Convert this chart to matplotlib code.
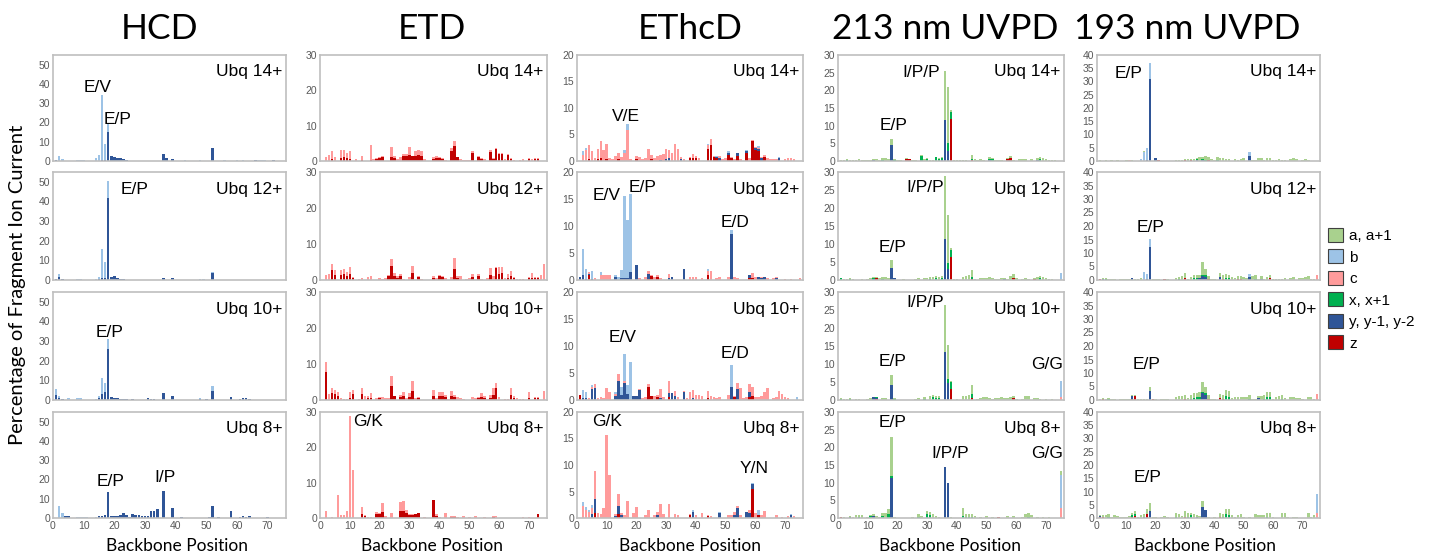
import matplotlib.pyplot as plt
import numpy as np
from matplotlib.patches import Patch

# backbone positions 1..75 of ubiquitin
positions = np.arange(1, 76)

# stacking order, bottom -> top
ions = ['z', 'y', 'x', 'c', 'b', 'a']
ion_colors = {'a': '#a9d18e', 'b': '#9dc3e6', 'c': '#ff9b9b',
              'x': '#00b050', 'y': '#2f5597', 'z': '#c00000'}
legend_ions = ['a', 'b', 'c', 'x', 'y', 'z']
legend_labels = ['a, a+1', 'b', 'c', 'x, x+1', 'y, y-1, y-2', 'z']

methods = ['HCD', 'ETD', 'EThcD', '213 nm UVPD', '193 nm UVPD']
charges = ['Ubq 14+', 'Ubq 12+', 'Ubq 10+', 'Ubq 8+']
ymax = [55, 30, 20, 30, 40]
ystep = [10, 10, 5, 5, 5]

# ---------------- HCD (ion -> {position: %}) ----------------
hcd_14 = {
    'y': {1: 0.3, 16: 0.5, 17: 0.5, 18: 15, 19: 2.5, 20: 2.2, 21: 1.8, 22: 1.3, 23: 1.0, 24: 0.7,
          36: 3.5, 37: 1.8, 39: 1.0, 52: 6.5, 66: 0.4, 72: 0.4},
    'b': {2: 2.5, 3: 1.0, 8: 0.5, 9: 0.7, 10: 0.7, 14: 1.5, 15: 3.0, 16: 33.5, 17: 8.5, 18: 4.0,
          43: 0.3, 48: 0.3, 56: 0.3, 60: 0.4, 62: 0.3, 67: 0.3, 68: 0.3, 69: 0.3},
}
hcd_12 = {
    'y': {1: 0.5, 2: 1.5, 3: 0.5, 15: 0.5, 16: 0.8, 17: 1.0, 18: 42, 19: 1.5, 20: 2.0, 21: 1.2,
          22: 0.5, 23: 0.3, 36: 0.8, 39: 0.8, 52: 3.5},
    'b': {2: 1.5, 8: 0.3, 9: 0.3, 14: 0.5, 15: 1.0, 16: 15, 17: 8, 18: 8.5, 48: 0.3, 49: 0.3,
          52: 0.7, 58: 0.2, 62: 0.2, 63: 0.2, 67: 0.2},
}
hcd_10 = {
    'y': {1: 2.5, 2: 1.0, 3: 0.5, 15: 1.0, 16: 3.0, 17: 4.0, 18: 26, 19: 1.5, 20: 1.2, 21: 0.8,
          22: 0.6, 23: 0.5, 24: 0.4, 26: 0.3, 31: 0.8, 32: 0.5, 33: 0.4, 36: 3.5, 39: 2.0, 48: 0.5,
          50: 0.3, 52: 4.5, 58: 1.5, 61: 0.5, 62: 0.8, 63: 1.0, 64: 0.5},
    'b': {1: 3.0, 2: 1.0, 5: 1.0, 8: 0.8, 9: 0.8, 14: 0.5, 15: 1.0, 16: 8.0, 17: 4.5, 18: 5.0,
          48: 0.3, 52: 2.5},
}
hcd_8 = {
    'y': {4: 1.0, 5: 0.8, 15: 0.8, 16: 1.2, 17: 1.5, 18: 13.5, 19: 1.0, 20: 1.2, 21: 1.0, 22: 1.5,
          23: 2.5, 24: 1.8, 25: 0.5, 26: 2.0, 27: 1.5, 28: 1.3, 29: 1.0, 30: 1.0, 31: 1.2, 32: 3.5,
          33: 3.5, 34: 4.5, 36: 14, 39: 5.0, 42: 0.3, 51: 0.5, 52: 6.0, 54: 0.5, 58: 3.5, 61: 0.5,
          62: 0.8, 63: 0.5, 64: 1.0, 70: 0.3},
    'b': {2: 6.0, 3: 2.5, 8: 0.3, 9: 0.3, 10: 0.3, 11: 0.3, 14: 0.3},
}

# ---------------- ETD ----------------
etd_14 = {
    'z': {4: 0.6, 7: 0.8, 8: 1.0, 9: 0.8, 10: 0.5, 14: 0.3, 17: 0.2, 19: 0.5, 20: 0.8, 21: 1.0,
          24: 1.2, 25: 0.8, 28: 1.3, 29: 1.3, 30: 1.7, 31: 1.5, 32: 1.5, 33: 1.8, 34: 1.5, 38: 0.6,
          39: 0.8, 40: 0.8, 41: 0.5, 44: 2.8, 45: 4.2, 46: 1.0, 51: 2.2, 53: 1.2, 54: 0.6, 57: 2.5,
          58: 0.6, 59: 3.3, 60: 2.1, 61: 2.1, 63: 1.7, 64: 0.6, 70: 0.6, 72: 0.7, 73: 0.7},
    'c': {2: 1.2, 3: 1.7, 4: 2.1, 5: 1.2, 7: 2.2, 8: 2.2, 9: 1.4, 10: 2.3, 12: 0.5, 14: 1.0,
          17: 4.4, 18: 0.6, 19: 0.3, 20: 0.4, 21: 0.3, 24: 2.8, 25: 0.7, 26: 0.5, 27: 1.0, 28: 0.7,
          29: 0.6, 30: 2.2, 32: 1.4, 33: 1.2, 34: 1.3, 35: 0.6, 38: 0.4, 39: 0.5, 40: 0.4, 41: 0.3,
          42: 0.3, 44: 0.9, 45: 1.5, 47: 0.6, 48: 0.3, 49: 0.3, 50: 0.3, 51: 0.5, 53: 0.1, 54: 0.2,
          55: 0.5, 57: 0.5, 58: 0.2, 59: 0.3, 60: 0.2, 61: 0.2, 62: 0.6, 63: 0.3, 64: 0.2, 65: 0.4,
          67: 0.2, 68: 0.5, 70: 0.2, 71: 0.5, 72: 0.1, 73: 0.1},
}
etd_12 = {
    'z': {4: 2.8, 5: 1.5, 7: 1.5, 8: 1.8, 9: 1.0, 10: 1.8, 11: 0.5, 23: 1.0, 24: 3.8, 25: 1.2,
          26: 0.5, 27: 1.0, 31: 2.0, 33: 0.8, 38: 0.5, 40: 1.0, 41: 0.8, 45: 3.0, 46: 0.5, 51: 0.8,
          53: 1.2, 57: 1.5, 59: 3.3, 60: 1.8, 61: 2.0, 63: 0.5, 64: 1.0, 65: 0.5, 70: 0.5, 71: 0.5,
          72: 0.6, 73: 0.6},
    'c': {2: 1.5, 3: 1.7, 4: 1.7, 5: 1.3, 7: 1.2, 8: 1.2, 9: 1.3, 10: 1.9, 11: 0.3, 13: 0.3,
          14: 0.5, 16: 0.8, 17: 1.2, 20: 0.5, 21: 0.3, 22: 0.5, 23: 0.5, 24: 2.0, 25: 0.8, 26: 0.7,
          27: 0.7, 28: 0.3, 30: 0.8, 31: 2.0, 33: 0.4, 34: 0.3, 38: 0.7, 39: 0.5, 40: 0.5, 41: 0.4,
          42: 0.5, 44: 0.8, 45: 3.0, 46: 0.7, 47: 1.2, 49: 0.3, 50: 0.5, 51: 0.9, 53: 0.6, 54: 0.3,
          56: 0.5, 57: 1.7, 58: 1.0, 59: 0.2, 60: 1.7, 61: 1.5, 62: 0.5, 63: 1.2, 64: 1.5, 65: 0.3,
          66: 0.3, 67: 0.3, 68: 0.3, 70: 0.3, 71: 1.5, 72: 0.2, 73: 0.2, 74: 1.5, 75: 4.5},
}
etd_10 = {
    'z': {2: 7.8, 4: 2.0, 5: 1.8, 6: 1.2, 10: 0.5, 11: 1.8, 14: 1.8, 16: 0.5, 17: 0.5, 20: 0.5,
          24: 4.0, 25: 1.0, 27: 0.8, 28: 1.2, 30: 0.8, 31: 2.6, 33: 0.6, 38: 1.2, 40: 1.0, 41: 1.2,
          42: 0.8, 44: 1.2, 45: 0.7, 53: 0.5, 54: 0.8, 55: 0.5, 57: 0.5, 58: 1.5, 59: 3.2, 64: 1.5,
          65: 0.5, 70: 0.6, 72: 0.6, 73: 0.6},
    'c': {2: 2.7, 3: 1.8, 4: 1.2, 5: 1.0, 6: 1.0, 7: 0.5, 8: 0.3, 9: 0.3, 10: 1.8, 11: 1.0,
          13: 0.3, 14: 1.4, 15: 1.0, 16: 0.5, 17: 1.5, 19: 0.5, 20: 0.3, 21: 0.8, 22: 0.6, 23: 0.5,
          24: 2.8, 27: 0.7, 28: 1.0, 29: 0.5, 30: 1.2, 31: 2.6, 32: 0.5, 33: 0.2, 38: 1.5, 39: 0.5,
          40: 1.2, 41: 1.0, 42: 0.7, 43: 0.3, 44: 1.3, 45: 0.8, 46: 0.8, 47: 0.5, 48: 0.3, 51: 0.8,
          52: 0.5, 53: 0.3, 54: 1.2, 55: 0.5, 56: 0.3, 57: 1.0, 58: 1.7, 59: 1.6, 60: 0.8, 62: 0.3,
          63: 0.3, 64: 1.8, 65: 0.5, 66: 0.5, 67: 0.3, 68: 0.3, 70: 1.7, 72: 0.2, 73: 0.2, 75: 2.5},
}
etd_8 = {
    'z': {14: 1.2, 15: 0.5, 19: 1.0, 20: 1.2, 21: 1.8, 27: 2.0, 28: 2.0, 29: 1.5, 30: 0.8, 31: 0.8,
          32: 1.0, 33: 1.3, 38: 5.2, 39: 0.5, 44: 0.3, 45: 0.3, 58: 0.3, 73: 1.0},
    'c': {2: 2.0, 4: 0.3, 6: 6.5, 7: 0.8, 8: 0.8, 9: 2.0, 10: 29.0, 11: 13.5, 14: 1.8, 15: 0.3,
          16: 0.3, 17: 0.3, 19: 0.8, 20: 0.3, 21: 2.5, 22: 0.5, 24: 1.5, 27: 2.5, 28: 2.8, 29: 0.8,
          30: 0.4, 31: 0.4, 32: 0.2, 35: 0.3, 39: 0.7, 40: 0.3, 42: 1.5, 44: 0.3, 45: 0.2, 46: 0.3,
          48: 0.5, 50: 0.3, 52: 0.5, 55: 0.3, 58: 0.3, 59: 0.5, 68: 0.3, 70: 0.3, 73: 0.2},
}

# ---------------- EThcD (position -> ions) ----------------
ethcd_14 = {
    2: dict(c=1.2, b=0.6), 3: dict(c=2.0, b=0.4), 4: dict(z=0.3, c=2.7), 5: dict(c=1.8),
    6: dict(c=0.5), 7: dict(z=0.3, c=2.0), 8: dict(z=0.5, c=3.3), 9: dict(c=2.0),
    10: dict(z=0.3, c=2.9), 11: dict(c=0.5), 12: dict(c=0.3), 13: dict(c=0.9), 14: dict(z=0.3, c=1.2),
    15: dict(c=0.7), 16: dict(c=1.5, b=0.5), 17: dict(c=5.8, b=1.2), 18: dict(c=0.3),
    20: dict(z=0.3, c=0.6), 21: dict(c=0.7), 22: dict(c=0.3), 23: dict(c=0.5), 24: dict(c=2.3),
    25: dict(z=0.3, c=0.9), 26: dict(c=0.6), 27: dict(c=0.9), 28: dict(y=0.2, c=1.0), 29: dict(c=1.4),
    30: dict(y=0.3, c=1.9), 31: dict(y=0.5, c=1.6), 32: dict(c=1.5), 33: dict(c=3.2), 34: dict(c=2.2),
    35: dict(y=0.3, c=0.5), 36: dict(c=0.3), 38: dict(z=0.5, c=0.3), 39: dict(z=0.5, c=0.8),
    40: dict(z=0.5, c=0.5), 41: dict(c=0.5), 44: dict(z=2.2, c=0.8, b=0.3), 45: dict(z=3.0, c=1.2),
    46: dict(z=0.8, c=0.2), 47: dict(z=0.5, y=0.3, b=0.2), 48: dict(y=0.5, c=0.5), 49: dict(c=0.3),
    50: dict(c=0.5), 51: dict(z=1.2, y=0.3, b=0.3), 52: dict(z=0.5, c=0.3), 53: dict(c=0.3),
    54: dict(z=1.0, y=0.5), 55: dict(c=0.4), 57: dict(z=1.5, y=0.3, b=0.2), 58: dict(c=0.5),
    59: dict(z=3.8, c=0.2), 60: dict(z=2.0, y=0.4, c=0.2), 61: dict(z=1.8, y=0.5, c=0.2, b=0.3),
    62: dict(y=0.5, c=0.3), 63: dict(z=0.8, c=0.3), 64: dict(c=0.6), 65: dict(c=0.4), 66: dict(c=0.3),
    67: dict(c=0.3), 68: dict(y=0.5, b=0.3), 70: dict(c=0.3), 71: dict(c=0.5), 72: dict(c=0.5),
    73: dict(c=0.4),
}
ethcd_12 = {
    1: dict(y=0.5), 2: dict(y=1.0, b=4.8), 3: dict(y=0.2, b=1.8), 4: dict(z=1.0, y=0.2, c=0.3),
    5: dict(y=0.2, b=1.5), 6: dict(c=0.3), 8: dict(c=1.0, b=0.4), 9: dict(c=1.0), 10: dict(c=1.0),
    11: dict(c=1.0), 13: dict(y=0.5, b=0.5), 14: dict(b=0.5), 15: dict(y=0.3, b=1.5),
    16: dict(y=0.3, b=15.2), 17: dict(y=0.4, b=10.8), 18: dict(y=1.5, b=14.5), 20: dict(y=2.8),
    21: dict(c=0.3), 23: dict(c=0.5), 24: dict(z=0.2, y=1.0, c=0.5), 25: dict(z=0.8, c=0.2),
    26: dict(c=0.5), 27: dict(z=0.5, c=0.5), 28: dict(c=0.3), 31: dict(y=0.3, c=0.8), 32: dict(y=0.6),
    36: dict(y=2.0), 38: dict(c=0.5), 39: dict(c=0.5), 40: dict(c=0.5), 42: dict(c=0.3),
    44: dict(z=1.0, c=0.7, b=0.3), 45: dict(c=1.6), 47: dict(c=0.3), 48: dict(c=0.5), 51: dict(c=0.5),
    52: dict(y=8.5, b=0.7), 53: dict(c=0.5), 54: dict(c=0.3), 58: dict(z=0.3, y=0.6, c=0.1),
    59: dict(z=0.3, c=1.0), 60: dict(c=0.5), 61: dict(y=0.5), 62: dict(y=0.3, c=0.2), 63: dict(y=0.5),
    64: dict(c=0.3), 66: dict(c=0.3), 67: dict(y=0.3, c=0.2), 70: dict(c=0.2), 72: dict(c=0.2),
    75: dict(c=0.3),
}
ethcd_10 = {
    1: dict(z=1.0), 2: dict(y=0.3, b=1.5), 3: dict(y=0.3, b=1.2), 4: dict(c=0.3),
    5: dict(y=2.0, c=0.5, b=0.3), 6: dict(y=2.2, c=0.7), 7: dict(c=0.4), 8: dict(c=0.5), 9: dict(c=0.3),
    10: dict(c=2.2), 11: dict(c=1.5), 13: dict(y=0.8, c=0.3, b=0.4), 14: dict(y=3.5, c=1.3),
    15: dict(y=1.0, b=1.5), 16: dict(y=3.2, c=0.3, b=5.0), 17: dict(y=1.2, b=1.6), 18: dict(b=7.0),
    19: dict(y=0.8), 20: dict(y=0.8), 21: dict(y=1.8, c=0.2), 22: dict(c=0.3), 23: dict(c=0.5),
    24: dict(z=2.4, c=0.5), 25: dict(z=0.8), 26: dict(c=0.7), 27: dict(z=0.5, c=0.5),
    28: dict(y=0.3, c=1.7), 29: dict(c=0.5), 31: dict(z=0.5, y=0.8, c=2.3), 32: dict(y=1.3),
    33: dict(y=0.8, c=0.9), 34: dict(c=0.5), 36: dict(y=1.5, c=0.2), 37: dict(c=0.3), 38: dict(c=1.5),
    39: dict(y=0.3, c=1.5), 40: dict(c=1.0), 41: dict(c=1.0), 42: dict(c=0.8), 44: dict(z=0.3, c=1.3),
    45: dict(c=0.8), 46: dict(c=0.5), 47: dict(c=0.3), 48: dict(c=0.5), 51: dict(c=1.0),
    52: dict(y=2.5, b=4.0), 53: dict(z=0.5, c=0.3), 54: dict(y=2.0, c=1.2), 55: dict(c=2.3),
    56: dict(c=0.3), 57: dict(c=0.5), 58: dict(z=0.5, y=1.0, c=1.4), 59: dict(z=0.8, c=1.7),
    60: dict(c=0.5), 61: dict(c=0.5), 62: dict(c=0.8), 63: dict(c=1.5), 64: dict(c=2.3), 66: dict(c=0.4),
    67: dict(c=0.5), 68: dict(c=1.7), 69: dict(c=1.2), 70: dict(c=0.5), 71: dict(c=0.3), 74: dict(b=0.5),
}
ethcd_8 = {
    2: dict(c=2.2, b=0.8), 3: dict(c=1.5, b=0.6), 4: dict(c=1.2, b=0.4), 5: dict(y=0.8, c=1.1, b=0.5),
    6: dict(z=1.0, y=2.6, c=5.2), 7: dict(c=1.0), 8: dict(c=0.8), 9: dict(c=1.9), 10: dict(c=15.6),
    11: dict(c=8.2), 13: dict(y=0.3, c=0.5), 14: dict(z=0.8, y=1.5, c=2.3), 15: dict(y=0.5, c=0.5),
    16: dict(c=0.5), 17: dict(c=3.2), 19: dict(c=1.0), 20: dict(c=2.0), 23: dict(c=0.5), 24: dict(c=1.6),
    26: dict(c=0.5), 27: dict(y=0.5, c=0.6), 28: dict(c=2.6), 29: dict(c=0.8), 31: dict(c=2.6),
    33: dict(c=0.8), 34: dict(c=0.5), 38: dict(z=0.5, c=0.3), 39: dict(y=1.2, b=0.4), 40: dict(c=0.5),
    42: dict(c=1.0), 44: dict(z=0.3, c=0.2), 45: dict(c=0.4), 48: dict(y=1.0, b=0.2), 51: dict(c=0.5),
    52: dict(c=0.5), 53: dict(y=0.5, c=0.6), 54: dict(y=1.8, c=0.5), 55: dict(c=0.5), 57: dict(y=1.2),
    58: dict(y=1.0, c=0.5), 59: dict(z=5.5, y=1.0, b=0.1), 60: dict(c=1.0), 61: dict(z=0.5, b=1.0),
    62: dict(c=0.5), 63: dict(c=1.4), 67: dict(c=0.5), 69: dict(c=0.2), 71: dict(c=0.3),
    72: dict(y=0.6, b=0.1), 73: dict(c=0.3),
}

# ---------------- 213 nm UVPD ----------------
uv213_14 = {
    1: dict(a=0.3), 2: dict(a=0.3), 3: dict(x=0.2, a=0.3), 4: dict(a=0.3), 5: dict(a=0.3), 6: dict(a=0.3),
    7: dict(a=0.5), 8: dict(a=0.3), 9: dict(a=0.3), 10: dict(a=0.3), 11: dict(a=0.3), 12: dict(y=0.3, a=0.2),
    13: dict(a=0.5), 14: dict(a=0.3), 15: dict(x=0.3, a=0.5), 16: dict(a=0.8), 17: dict(a=0.5),
    18: dict(y=4.5, a=1.7), 19: dict(x=0.4, a=0.1), 20: dict(a=0.3), 21: dict(a=0.3), 23: dict(z=0.5, a=0.4),
    24: dict(z=0.5, a=0.2), 25: dict(a=0.3), 26: dict(a=0.3), 28: dict(x=1.5, a=0.1), 29: dict(a=0.5),
    30: dict(x=0.5, a=0.3), 31: dict(a=0.3), 32: dict(a=0.3), 33: dict(x=1.0, a=0.2), 34: dict(x=0.6, a=0.3),
    35: dict(y=0.2, x=0.7, a=0.3), 36: dict(y=11.5, a=14.0), 37: dict(y=2.8, x=2.2, a=16.0),
    38: dict(z=12.0, x=2.0, a=0.5), 39: dict(a=0.3), 40: dict(a=0.3), 41: dict(a=0.3), 42: dict(a=0.3),
    43: dict(a=0.3), 45: dict(z=0.3, x=0.3, a=1.2), 46: dict(a=0.5), 47: dict(a=0.3), 48: dict(a=0.5),
    49: dict(a=0.3), 51: dict(y=0.3, x=0.4, a=0.3), 52: dict(x=0.5, a=0.3), 53: dict(a=0.3), 54: dict(a=0.3),
    55: dict(a=0.3), 57: dict(z=0.5, a=0.3), 58: dict(z=0.8, a=0.5), 59: dict(a=0.3), 61: dict(a=0.5),
    62: dict(a=0.5), 63: dict(a=0.5), 65: dict(a=0.5), 67: dict(y=0.3, a=0.5), 68: dict(x=0.5, a=0.5),
    69: dict(a=0.8), 70: dict(a=0.5), 71: dict(a=0.3), 72: dict(a=0.3), 73: dict(a=0.3),
}
uv213_12 = {
    1: dict(x=0.5), 2: dict(a=0.3), 3: dict(a=0.3), 4: dict(x=0.2, a=0.3), 5: dict(a=0.3), 8: dict(a=0.3),
    10: dict(a=0.3), 11: dict(a=0.5), 12: dict(y=0.3, x=0.3, a=0.2), 13: dict(z=0.5, a=0.3), 14: dict(a=0.5),
    15: dict(x=0.3, a=0.5), 16: dict(a=0.8), 17: dict(a=0.5), 18: dict(y=3.2, a=2.3), 19: dict(y=0.5, a=0.1),
    22: dict(a=0.3), 26: dict(a=0.3), 27: dict(a=0.5), 29: dict(a=0.5), 30: dict(a=0.5),
    31: dict(x=0.3, a=0.5), 32: dict(a=0.8), 33: dict(x=0.5, a=0.5), 34: dict(a=0.8), 35: dict(x=0.5, a=0.5),
    36: dict(y=11.5, a=17.3), 37: dict(y=3.0, x=1.7, a=13.3), 38: dict(z=6.5, x=1.8, a=0.7), 39: dict(a=0.3),
    40: dict(a=0.3), 42: dict(a=0.8), 43: dict(a=1.0), 44: dict(a=1.3), 45: dict(z=0.3, x=0.5, a=2.0),
    46: dict(a=0.3), 48: dict(a=0.5), 49: dict(a=0.5), 50: dict(a=0.5), 51: dict(a=0.8), 52: dict(a=0.5),
    53: dict(a=0.3), 54: dict(a=0.3), 55: dict(a=0.5), 56: dict(y=0.3, a=0.2), 57: dict(a=0.3), 58: dict(a=1.0),
    59: dict(z=0.6, a=1.2), 60: dict(a=0.5), 62: dict(a=0.3), 63: dict(a=0.5), 64: dict(a=0.3),
    66: dict(z=0.3, a=0.2), 67: dict(a=0.8), 68: dict(x=0.5, a=0.5), 69: dict(a=0.8), 70: dict(a=0.5),
    71: dict(a=0.3), 72: dict(a=0.3), 75: dict(b=2.0),
}
uv213_10 = {
    1: dict(x=0.3, a=0.2), 2: dict(a=0.3), 3: dict(a=0.3), 4: dict(x=0.3, a=0.2), 6: dict(a=0.3), 7: dict(a=0.3),
    10: dict(a=0.3), 11: dict(a=0.5), 12: dict(y=0.7, a=0.2), 13: dict(z=0.2, y=0.4, x=0.2, a=0.1),
    15: dict(a=0.6), 16: dict(a=0.6), 18: dict(y=4.3, a=2.7), 19: dict(x=0.3, a=0.2), 26: dict(a=0.3),
    27: dict(a=0.5), 29: dict(x=0.3, a=0.5), 31: dict(a=1.0), 32: dict(x=0.7, a=0.8), 33: dict(x=0.5, a=0.7),
    34: dict(x=0.5, a=0.5), 36: dict(y=13.2, a=13.3), 37: dict(y=4.6, x=1.3, a=9.4), 38: dict(z=3.0, x=2.0, a=0.2),
    40: dict(a=0.3), 42: dict(a=1.0), 43: dict(a=1.0), 44: dict(a=1.5), 45: dict(z=0.5, x=1.3, a=2.4),
    47: dict(a=0.3), 48: dict(a=0.5), 49: dict(a=0.8), 50: dict(a=0.8), 51: dict(a=0.5), 52: dict(a=0.3),
    53: dict(a=0.5), 54: dict(a=0.5), 55: dict(a=0.8), 56: dict(a=0.5), 57: dict(a=0.5), 58: dict(a=0.9),
    59: dict(z=0.5, a=0.7), 60: dict(a=0.3), 62: dict(a=0.3), 63: dict(a=1.0), 64: dict(a=1.0), 66: dict(a=0.5),
    67: dict(a=0.5), 68: dict(a=0.3), 70: dict(a=0.3), 72: dict(a=0.3), 75: dict(c=0.8, b=4.5),
}
uv213_8 = {
    1: dict(z=0.2, a=0.1), 2: dict(a=0.2), 4: dict(y=0.3, a=0.4), 5: dict(a=0.2), 6: dict(a=0.8),
    7: dict(x=0.3, a=0.5), 8: dict(a=0.8), 10: dict(a=0.3), 11: dict(x=0.5, a=0.3), 12: dict(y=0.5, a=0.5),
    13: dict(a=0.5), 14: dict(a=0.3), 15: dict(x=0.5, a=0.8), 16: dict(a=1.3), 17: dict(x=1.0, a=1.6),
    18: dict(y=11.2, x=0.7, a=11.1), 19: dict(a=0.3), 25: dict(a=0.3), 27: dict(x=0.3, a=0.9), 28: dict(a=0.5),
    30: dict(x=1.0, a=1.0), 31: dict(x=0.8, a=1.0), 32: dict(a=1.2), 33: dict(a=0.5), 34: dict(a=0.3),
    36: dict(y=14.3), 37: dict(y=9.8, b=0.2), 38: dict(a=0.3), 42: dict(x=0.7, a=2.0), 43: dict(x=0.4, a=0.8),
    44: dict(x=0.4, a=0.8), 45: dict(x=0.4, a=0.7), 46: dict(a=0.5), 48: dict(a=0.3), 50: dict(a=0.5),
    52: dict(a=0.3), 54: dict(z=0.2, a=0.1), 57: dict(a=0.5), 59: dict(a=0.5), 62: dict(a=0.3), 63: dict(a=1.0),
    64: dict(x=0.3, a=1.2), 65: dict(a=0.8), 67: dict(a=0.3), 69: dict(a=0.3), 71: dict(a=0.3),
    75: dict(c=2.7, b=9.5, a=1.0),
}

# ---------------- 193 nm UVPD ----------------
uv193_14 = {
    1: dict(a=0.3), 3: dict(a=0.3), 5: dict(a=0.3), 7: dict(a=0.3), 10: dict(a=0.3), 11: dict(c=0.5),
    12: dict(a=0.3), 15: dict(b=0.8), 16: dict(b=3.5, a=0.3), 17: dict(y=0.3, b=4.5), 18: dict(y=31.0, b=6.0),
    20: dict(y=1.2, a=0.1), 21: dict(z=0.4, a=0.1), 27: dict(a=0.3), 28: dict(a=0.5), 29: dict(a=0.5),
    30: dict(z=0.5, a=0.3), 31: dict(a=0.8), 32: dict(z=0.5, a=0.3), 33: dict(a=0.8), 34: dict(y=0.3, x=0.3, a=0.7),
    35: dict(a=1.5), 36: dict(y=0.5, x=0.3, a=0.7), 37: dict(x=0.5, a=1.3), 38: dict(z=0.5, a=1.1), 39: dict(a=0.8),
    40: dict(a=0.5), 41: dict(x=0.5, a=1.0), 42: dict(a=1.3), 43: dict(a=1.0), 44: dict(a=0.8), 45: dict(a=0.7),
    47: dict(a=0.8), 48: dict(a=0.5), 49: dict(a=0.8), 50: dict(a=1.0), 52: dict(y=1.8, b=1.5), 53: dict(a=0.5),
    54: dict(a=0.5), 55: dict(a=1.0), 56: dict(a=1.0), 57: dict(a=0.5), 58: dict(a=1.0), 59: dict(a=1.0),
    60: dict(a=0.5), 61: dict(a=0.5), 62: dict(a=0.8), 63: dict(a=0.5), 64: dict(a=0.5), 66: dict(a=0.8),
    67: dict(a=1.2), 68: dict(a=0.8), 70: dict(a=0.3), 71: dict(a=0.8), 72: dict(a=0.3),
}
uv193_12 = {
    1: dict(z=0.3, a=0.2), 2: dict(y=0.5, a=0.3), 3: dict(x=0.4, a=0.4), 4: dict(a=0.5), 5: dict(a=0.3),
    6: dict(a=0.5), 8: dict(a=0.3), 9: dict(a=0.3), 10: dict(a=0.3), 11: dict(a=0.5), 12: dict(y=0.6, a=0.3),
    13: dict(a=0.3), 14: dict(a=0.5), 15: dict(a=0.8), 16: dict(b=3.0), 17: dict(y=0.3, b=2.0),
    18: dict(y=12.2, b=3.0), 19: dict(a=0.5), 20: dict(a=0.5), 21: dict(a=0.3), 23: dict(z=0.3, a=0.2),
    24: dict(a=0.3), 27: dict(a=0.8), 28: dict(x=0.5, a=0.7), 29: dict(a=1.5), 30: dict(z=0.8, a=1.7),
    31: dict(a=0.5), 32: dict(a=1.0), 33: dict(x=0.6, a=1.2), 34: dict(x=0.8, a=1.2), 35: dict(y=0.8, a=1.0),
    36: dict(y=1.5, x=0.5, a=4.5), 37: dict(y=1.2, x=0.8, a=2.0), 38: dict(z=0.5, a=1.0), 39: dict(a=0.5),
    40: dict(a=0.5), 42: dict(y=1.0, a=1.5), 43: dict(z=0.5, a=1.3), 44: dict(x=0.8, a=1.5), 45: dict(x=0.8, a=1.2),
    46: dict(a=1.0), 47: dict(a=0.8), 48: dict(z=0.5, a=1.0), 49: dict(z=0.5, a=1.0), 50: dict(a=1.2),
    51: dict(a=0.8), 52: dict(y=1.0, b=1.3), 53: dict(a=1.5), 54: dict(x=0.5, a=1.3), 55: dict(a=0.5),
    56: dict(y=0.5, a=1.0), 57: dict(a=0.5), 58: dict(a=1.0), 59: dict(z=0.8, a=1.0), 60: dict(a=0.5),
    61: dict(a=0.5), 62: dict(a=0.3), 63: dict(a=0.5), 64: dict(a=0.8), 66: dict(a=0.8), 67: dict(a=1.2),
    69: dict(a=0.8), 70: dict(a=0.8), 71: dict(a=1.0), 72: dict(a=1.5), 73: dict(a=0.3), 74: dict(a=0.5),
    75: dict(c=1.8),
}
uv193_10 = {
    1: dict(a=0.3), 2: dict(z=0.5, a=0.3), 3: dict(a=0.5), 4: dict(x=0.3, a=0.4), 5: dict(a=0.5), 6: dict(a=0.3),
    8: dict(a=0.3), 9: dict(a=0.3), 10: dict(a=0.3), 11: dict(a=0.5), 12: dict(z=0.3, y=1.2, a=0.3),
    13: dict(z=1.3, a=0.7), 14: dict(a=0.3), 15: dict(a=0.5), 16: dict(a=0.5), 17: dict(a=0.3),
    18: dict(y=3.5, a=1.5), 19: dict(z=0.3, a=0.2), 20: dict(a=0.5), 22: dict(a=0.3), 23: dict(a=0.3),
    24: dict(a=0.3), 27: dict(a=1.2), 28: dict(a=1.3), 29: dict(a=1.5), 30: dict(z=0.5, a=1.5), 31: dict(a=0.8),
    32: dict(x=0.5, a=1.3), 33: dict(x=0.8, a=1.7), 34: dict(x=1.0, a=1.5), 35: dict(x=1.0, a=2.0),
    36: dict(y=2.5, x=0.5, a=3.5), 37: dict(y=1.8, x=0.8, a=2.2), 38: dict(z=0.5, a=1.5), 39: dict(a=0.3),
    40: dict(a=0.5), 42: dict(z=0.8, a=1.5), 43: dict(z=0.5, a=1.5), 44: dict(x=1.5, a=2.3), 45: dict(x=1.2, a=2.1),
    46: dict(a=0.8), 47: dict(a=1.0), 48: dict(a=1.2), 49: dict(a=1.0), 50: dict(a=1.2), 51: dict(a=1.2),
    52: dict(x=0.5, a=1.5), 53: dict(a=0.5), 54: dict(a=0.5), 55: dict(y=0.8, a=0.7), 56: dict(a=1.5),
    57: dict(x=0.5, a=1.3), 58: dict(x=1.0, a=1.8), 59: dict(x=1.2, a=1.8), 60: dict(a=0.5), 61: dict(a=1.0),
    62: dict(a=1.5), 63: dict(x=0.5, a=1.3), 64: dict(a=0.8), 66: dict(a=1.0), 67: dict(a=1.0), 68: dict(a=0.8),
    69: dict(a=0.8), 70: dict(a=0.5), 72: dict(a=1.2), 73: dict(a=1.0), 74: dict(a=0.5), 75: dict(c=2.3),
}
uv193_8 = {
    1: dict(z=0.5, y=0.3, a=0.2), 2: dict(z=0.5, a=0.5), 3: dict(a=1.0), 4: dict(x=0.5, a=1.0), 5: dict(a=0.5),
    6: dict(a=1.2), 7: dict(a=0.8), 8: dict(a=0.3), 9: dict(a=0.3), 10: dict(a=0.5), 11: dict(a=0.8),
    12: dict(z=0.5, x=0.8, a=0.5), 13: dict(z=0.8, x=0.7, a=1.0), 14: dict(a=0.3), 15: dict(a=1.0),
    16: dict(y=0.5, a=1.0), 17: dict(z=1.5, a=2.0), 18: dict(y=2.8, a=2.7), 19: dict(a=0.5), 20: dict(a=0.5),
    22: dict(a=0.3), 23: dict(a=0.8), 24: dict(a=0.5), 27: dict(x=0.3, a=1.5), 28: dict(a=1.5), 29: dict(a=0.8),
    30: dict(z=0.5, a=2.0), 31: dict(x=0.5, a=1.5), 32: dict(x=1.0, a=0.8), 33: dict(a=1.5), 34: dict(y=0.5, a=0.5),
    35: dict(a=0.8), 36: dict(y=4.0, a=2.3), 37: dict(y=3.0), 38: dict(a=0.5), 40: dict(a=0.3),
    42: dict(z=0.5, a=1.5), 43: dict(x=0.5, a=1.0), 44: dict(x=1.5, a=2.0), 45: dict(x=1.0, a=2.5),
    46: dict(a=1.0), 47: dict(a=0.5), 48: dict(a=1.2), 49: dict(a=1.5), 50: dict(a=0.3), 52: dict(a=0.5),
    54: dict(a=1.5), 55: dict(a=1.0), 56: dict(a=1.0), 57: dict(a=1.3), 58: dict(x=0.5, a=1.5), 59: dict(a=2.0),
    60: dict(a=0.3), 63: dict(a=2.0), 64: dict(a=2.0), 65: dict(a=0.5), 67: dict(a=0.3), 68: dict(a=0.3),
    72: dict(a=2.0), 73: dict(a=0.5), 74: dict(a=1.2), 75: dict(c=2.0, b=7.0),
}

panels = [
    [hcd_14, etd_14, ethcd_14, uv213_14, uv193_14],
    [hcd_12, etd_12, ethcd_12, uv213_12, uv193_12],
    [hcd_10, etd_10, ethcd_10, uv213_10, uv193_10],
    [hcd_8, etd_8, ethcd_8, uv213_8, uv193_8],
]

# peak labels: (row, col) -> [(text, x, y)]
peak_labels = {
    (0, 0): [('E/V', 14.4, 36), ('E/P', 20.9, 19.2)],
    (1, 0): [('E/P', 26.6, 44)],
    (2, 0): [('E/P', 18.6, 32)],
    (3, 0): [('E/P', 18.9, 16.6), ('I/P', 36.5, 18.7)],
    (3, 1): [('G/K', 16, 26)],
    (0, 2): [('V/E', 16.5, 7.5)],
    (1, 2): [('E/V', 10, 14.8), ('E/P', 21.9, 16.3), ('E/D', 53, 9.8)],
    (2, 2): [('E/V', 15.4, 10.7), ('E/D', 53, 7.8)],
    (3, 2): [('G/K', 10.1, 17.4), ('Y/N', 59.5, 8.5)],
    (0, 3): [('E/P', 18.8, 8.8), ('I/P/P', 27.9, 23.8)],
    (1, 3): [('E/P', 18.5, 7.8), ('I/P/P', 29.3, 24.4)],
    (2, 3): [('E/P', 18.5, 9.4), ('I/P/P', 29.3, 25.8), ('G/G', 70.3, 8.6)],
    (3, 3): [('E/P', 18.5, 25.8), ('I/P/P', 37.7, 17), ('G/G', 70.3, 17)],
    (0, 4): [('E/P', 10.9, 31.3)],
    (1, 4): [('E/P', 18.1, 17.8)],
    (2, 4): [('E/P', 17, 11.5)],
    (3, 4): [('E/P', 17.4, 13.6)],
}


def stack_values(panel):
    vals = {ion: np.zeros(len(positions)) for ion in ions}
    if set(panel.keys()) <= set(ions):
        for ion, d in panel.items():
            for p, v in d.items():
                vals[ion][p - 1] = v
    else:
        for p, d in panel.items():
            for ion, v in d.items():
                vals[ion][p - 1] = v
    return vals


W, H = 1429, 557
col_px = [(53, 286), (320, 547), (577, 803), (838, 1064), (1097, 1320)]
row_px = [(55, 161), (172, 280), (292, 400), (412, 518)]
title_x = [160, 432, 690, 945, 1187]
xlabel_x = [177, 432, 690, 950, 1205]

panel_font = 'Liberation Sans'
label_font = 'Lato'

fig = plt.figure(figsize=(W / 100, H / 100), dpi=100)

for r in range(4):
    for c in range(5):
        l, rr = col_px[c]
        t, b = row_px[r]
        ax = fig.add_axes([l / W, 1 - b / H, (rr - l) / W, (b - t) / H])
        vals = stack_values(panels[r][c])
        bottom = np.zeros(len(positions))
        for ion in ions:
            if vals[ion].any():
                ax.bar(positions, vals[ion], width=0.85, bottom=bottom,
                       color=ion_colors[ion], linewidth=0)
                bottom += vals[ion]
        ax.set_xlim(0, 76)
        ax.set_ylim(0, ymax[c])
        ax.set_yticks(np.arange(0, ymax[c] + 1, ystep[c]))
        ax.set_xticks(np.arange(0, 71, 10))
        ax.tick_params(length=0, pad=2, labelsize=7.5, labelcolor='#595959')
        for lab in ax.get_xticklabels() + ax.get_yticklabels():
            lab.set_family(panel_font)
        if r < 3:
            ax.set_xticklabels([])
        for s in ax.spines.values():
            s.set_color('#bfbfbf')
            s.set_linewidth(1.2)
        ax.text(0.985, 0.80, charges[r], transform=ax.transAxes, ha='right',
                va='baseline', fontsize=12.5, family=panel_font)
        for txt, x, y in peak_labels.get((r, c), []):
            ax.text(x, y, txt, ha='center', va='baseline', fontsize=12.5, family=panel_font)

for c in range(5):
    fig.text(title_x[c] / W, 1 - 29 / H, methods[c], ha='center', va='center',
             fontsize=25.5, family=label_font)
    fig.text(xlabel_x[c] / W, 1 - 546 / H, 'Backbone Position', ha='center', va='center',
             fontsize=12.5, family=label_font)

fig.text(18 / W, 1 - 285 / H, 'Percentage of Fragment Ion Current', rotation=90,
         ha='center', va='center', fontsize=14.5, family=label_font)

handles = [Patch(facecolor=ion_colors[i], edgecolor='#404040', linewidth=0.8) for i in legend_ions]
fig.legend(handles, legend_labels, loc='upper left', bbox_to_anchor=(1328 / W, 1 - 228 / H),
           frameon=False, prop={'family': panel_font, 'size': 11}, handlelength=1.0,
           handleheight=1.0, handletextpad=0.4, labelspacing=0.42, borderaxespad=0, borderpad=0)

fig.savefig('out.png', dpi=100)
